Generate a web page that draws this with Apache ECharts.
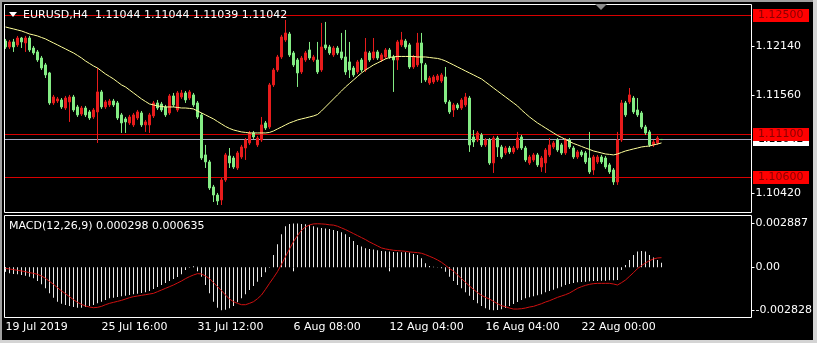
<!DOCTYPE html>
<html><head><meta charset="utf-8">
<script src="https://cdn.jsdelivr.net/npm/echarts@6/dist/echarts.min.js"></script>
<style>html,body{margin:0;padding:0;background:#000;overflow:hidden}#c{width:817px;height:343px}</style>
</head><body><div id="c"></div>
<script>
const symbol = 'EURUSD', period = 'H4';
const open = [1.12196,1.12126,1.12185,1.12150,1.12231,1.12173,1.12231,1.12114,1.12068,1.11997,
1.11916,1.11822,1.11471,1.11494,1.11506,1.11412,1.11483,1.11541,1.11424,1.11342,
1.11412,1.11366,1.11307,1.11366,1.11600,1.11424,1.11448,1.11494,1.11471,1.11331,
1.11284,1.11237,1.11214,1.11295,1.11354,1.11214,1.11214,1.11319,1.11471,1.11459,
1.11424,1.11354,1.11553,1.11389,1.11541,1.11588,1.11529,1.11565,1.11471,1.11331,
1.10863,1.10781,1.10488,1.10394,1.10336,1.10570,1.10851,1.10827,1.10710,1.10839,
1.10944,1.11003,1.11120,1.10980,1.11038,1.11237,1.11190,1.11682,1.11857,1.12009,
1.12208,1.12278,1.12056,1.11974,1.11834,1.11974,1.12091,1.11974,1.11974,1.11857,
1.12150,1.12126,1.12033,1.12114,1.12068,1.12009,1.11951,1.11880,1.11834,1.11974,
1.11857,1.12056,1.11997,1.12068,1.11974,1.12009,1.12091,1.12009,1.11974,1.12150,
1.12196,1.12150,1.11892,1.11916,1.12173,1.11916,1.11705,1.11717,1.11740,1.11728,
1.11775,1.11483,1.11389,1.11448,1.11412,1.11448,1.11529,1.11073,1.11038,1.11097,
1.10980,1.11038,1.10769,1.11061,1.10956,1.10886,1.10944,1.10898,1.10944,1.11073,
1.10944,1.10769,1.10804,1.10863,1.10722,1.10769,1.10863,1.10956,1.11038,1.10980,
1.10886,1.11038,1.10944,1.10839,1.10898,1.10886,1.10827,1.10687,1.10781,1.10839,
1.10827,1.10746,1.10687,1.10547,1.11038,1.11471,1.11483,1.11529,1.11389,1.11354,
1.11190,1.11132,1.10980,1.11003,1.11044];
const close = [1.12126,1.12185,1.12126,1.12231,1.12185,1.12231,1.12091,1.12056,1.11974,1.11880,
1.11799,1.11471,1.11541,1.11518,1.11424,1.11529,1.11541,1.11389,1.11331,1.11412,
1.11331,1.11295,1.11389,1.11600,1.11424,1.11483,1.11494,1.11448,1.11295,1.11237,
1.11249,1.11307,1.11331,1.11366,1.11214,1.11249,1.11331,1.11471,1.11412,1.11389,
1.11331,1.11553,1.11448,1.11588,1.11588,1.11506,1.11600,1.11448,1.11307,1.10827,
1.10781,1.10476,1.10394,1.10324,1.10570,1.10863,1.10769,1.10722,1.10886,1.10956,
1.11038,1.11120,1.11073,1.11061,1.11214,1.11178,1.11682,1.11857,1.12009,1.12243,
1.12290,1.12033,1.11916,1.11822,1.11997,1.12056,1.11997,1.12009,1.11834,1.12126,
1.12114,1.12056,1.12114,1.12056,1.11997,1.11834,1.11857,1.11799,1.11951,1.11857,
1.12068,1.11974,1.12068,1.11997,1.12033,1.12091,1.12009,1.11974,1.12185,1.12208,
1.12126,1.11892,1.12009,1.12173,1.11939,1.11740,1.11763,1.11775,1.11787,1.11799,
1.11483,1.11366,1.11448,1.11412,1.11506,1.11541,1.10980,1.11015,1.11120,1.10980,
1.11038,1.10769,1.11061,1.10956,1.10839,1.10944,1.10898,1.10944,1.11061,1.10944,
1.10804,1.10839,1.10863,1.10746,1.10827,1.10921,1.10980,1.11003,1.10921,1.10886,
1.11038,1.10956,1.10839,1.10898,1.10863,1.10781,1.10664,1.10839,1.10839,1.10781,
1.10722,1.10664,1.10547,1.11038,1.11471,1.11331,1.11565,1.11366,1.11331,1.11190,
1.11120,1.10980,1.11015,1.11061,1.11042];
const low = [1.12103,1.12103,1.12068,1.12126,1.12114,1.12068,1.12068,1.12033,1.11951,1.11857,
1.11763,1.11448,1.11448,1.11471,1.11401,1.11389,1.11249,1.11366,1.11307,1.11319,
1.11307,1.11272,1.11284,1.11003,1.11401,1.11401,1.11424,1.11424,1.11272,1.11120,
1.11120,1.11214,1.11190,1.11272,1.11190,1.11132,1.11120,1.11295,1.11389,1.11366,
1.11307,1.11331,1.11424,1.11366,1.11518,1.11471,1.11506,1.11424,1.11284,1.10804,
1.10710,1.10453,1.10312,1.10277,1.10277,1.10547,1.10710,1.10699,1.10687,1.10816,
1.10804,1.10980,1.11050,1.10956,1.11015,1.11155,1.11167,1.11658,1.11834,1.11986,
1.12185,1.12009,1.11892,1.11658,1.11810,1.11951,1.11974,1.11951,1.11810,1.11834,
1.12091,1.12033,1.12009,1.12033,1.11974,1.11799,1.11763,1.11775,1.11810,1.11834,
1.11834,1.11951,1.11974,1.11974,1.11951,1.11986,1.11986,1.11600,1.11857,1.12126,
1.12103,1.11869,1.11869,1.11892,1.11705,1.11717,1.11682,1.11693,1.11717,1.11705,
1.11459,1.11342,1.11307,1.11389,1.11389,1.11424,1.10898,1.10956,1.11015,1.10956,
1.10956,1.10746,1.10652,1.10839,1.10816,1.10863,1.10874,1.10874,1.10921,1.10921,
1.10781,1.10746,1.10781,1.10722,1.10664,1.10652,1.10839,1.10933,1.10898,1.10863,
1.10863,1.10933,1.10816,1.10816,1.10839,1.10757,1.10640,1.10629,1.10757,1.10757,
1.10699,1.10640,1.10512,1.10512,1.11015,1.11307,1.11459,1.11342,1.11307,1.11167,
1.11097,1.10956,1.10956,1.10980,1.11039];
const high = [1.12220,1.12208,1.12220,1.12255,1.12243,1.12255,1.12255,1.12138,1.12091,1.12021,
1.11939,1.11834,1.11565,1.11541,1.11529,1.11553,1.11565,1.11565,1.11448,1.11436,
1.11436,1.11389,1.11412,1.11880,1.11623,1.11506,1.11518,1.11518,1.11494,1.11354,
1.11307,1.11331,1.11354,1.11389,1.11377,1.11272,1.11354,1.11494,1.11506,1.11483,
1.11448,1.11576,1.11588,1.11611,1.11623,1.11611,1.11623,1.11588,1.11494,1.11354,
1.10980,1.10804,1.10512,1.10418,1.10593,1.10886,1.10944,1.10851,1.10909,1.10980,
1.11061,1.11143,1.11143,1.11085,1.11307,1.11260,1.11705,1.11880,1.12033,1.12267,
1.12442,1.12302,1.12079,1.11997,1.12021,1.12079,1.12185,1.12033,1.12185,1.12407,
1.12419,1.12150,1.12138,1.12138,1.12290,1.12325,1.12185,1.11904,1.11974,1.11997,
1.12231,1.12079,1.12231,1.12091,1.12056,1.12114,1.12114,1.12033,1.12208,1.12302,
1.12220,1.12173,1.12033,1.12290,1.12290,1.11939,1.11787,1.11799,1.11810,1.11822,
1.11892,1.11506,1.11471,1.11471,1.11529,1.11588,1.11553,1.11155,1.11143,1.11120,
1.11061,1.11061,1.11085,1.11085,1.10980,1.10968,1.10968,1.10968,1.11132,1.11097,
1.10968,1.10863,1.10886,1.10886,1.10851,1.10944,1.11061,1.11026,1.11061,1.11003,
1.11061,1.11061,1.10968,1.10921,1.10921,1.10909,1.11132,1.10863,1.10863,1.10863,
1.10851,1.10769,1.10710,1.11132,1.11506,1.11494,1.11646,1.11553,1.11529,1.11377,
1.11214,1.11155,1.11038,1.11085,1.11044];
const maValues = [1.12360,1.12348,1.12337,1.12325,1.12313,1.12296,1.12278,1.12267,1.12255,1.12237,
1.12220,1.12196,1.12173,1.12150,1.12126,1.12103,1.12079,1.12056,1.12027,1.11997,
1.11962,1.11933,1.11904,1.11880,1.11845,1.11810,1.11781,1.11752,1.11717,1.11682,
1.11658,1.11623,1.11588,1.11553,1.11518,1.11488,1.11459,1.11448,1.11436,1.11430,
1.11424,1.11424,1.11424,1.11418,1.11412,1.11412,1.11407,1.11401,1.11377,1.11354,
1.11331,1.11307,1.11284,1.11254,1.11225,1.11196,1.11173,1.11155,1.11143,1.11132,
1.11126,1.11120,1.11120,1.11120,1.11120,1.11120,1.11126,1.11143,1.11167,1.11190,
1.11214,1.11237,1.11254,1.11272,1.11284,1.11295,1.11307,1.11319,1.11336,1.11377,
1.11424,1.11471,1.11518,1.11565,1.11611,1.11658,1.11699,1.11740,1.11781,1.11822,
1.11857,1.11886,1.11916,1.11939,1.11962,1.11986,1.12003,1.12009,1.12015,1.12015,
1.12015,1.12015,1.12015,1.12009,1.12009,1.12009,1.12003,1.11997,1.11992,1.11980,
1.11962,1.11939,1.11916,1.11892,1.11869,1.11845,1.11822,1.11799,1.11775,1.11752,
1.11717,1.11682,1.11646,1.11611,1.11576,1.11541,1.11506,1.11471,1.11436,1.11389,
1.11348,1.11307,1.11272,1.11237,1.11208,1.11178,1.11149,1.11120,1.11091,1.11068,
1.11044,1.11020,1.10997,1.10980,1.10962,1.10944,1.10927,1.10909,1.10898,1.10886,
1.10874,1.10869,1.10863,1.10874,1.10892,1.10909,1.10921,1.10933,1.10944,1.10956,
1.10962,1.10968,1.10980,1.10991,1.11003];
const macdMain = [-0.000286,-0.000396,-0.000440,-0.000462,-0.000506,-0.000550,-0.000616,-0.000726,-0.000902,-0.001122,
-0.001386,-0.001716,-0.002002,-0.002266,-0.002398,-0.002486,-0.002552,-0.002618,-0.002662,-0.002662,
-0.002618,-0.002552,-0.002486,-0.002376,-0.002266,-0.002156,-0.002046,-0.002002,-0.001958,-0.001914,
-0.001870,-0.001826,-0.001782,-0.001738,-0.001694,-0.001650,-0.001562,-0.001430,-0.001298,-0.001166,
-0.001034,-0.000902,-0.000770,-0.000638,-0.000462,-0.000176,-0.000022,0.000066,0.000044,-0.000616,
-0.001166,-0.001716,-0.002266,-0.002662,-0.002828,-0.002790,-0.002706,-0.002552,-0.002310,-0.002046,
-0.001782,-0.001496,-0.001232,-0.000946,-0.000638,-0.000330,-0.000022,0.000814,0.001518,0.002178,
0.002700,0.002860,0.002887,0.002880,0.002850,0.002830,0.002780,0.002700,0.002620,0.002590,
0.002560,0.002530,0.002464,0.002398,0.002310,0.002178,0.002002,0.001738,0.001474,0.001364,
0.001254,0.001210,0.001166,0.001122,0.001078,0.001056,0.001034,0.001012,0.000990,0.000990,
0.000990,0.000968,0.000880,0.000814,0.000594,0.000264,0.000088,0.000044,0.000022,-0.000066,
-0.000286,-0.000616,-0.000902,-0.001166,-0.001386,-0.001650,-0.001870,-0.002156,-0.002376,-0.002552,
-0.002706,-0.002790,-0.002828,-0.002810,-0.002760,-0.002680,-0.002552,-0.002420,-0.002288,-0.002156,
-0.002046,-0.001980,-0.001914,-0.001848,-0.001782,-0.001650,-0.001562,-0.001474,-0.001386,-0.001276,
-0.001166,-0.001100,-0.001034,-0.000990,-0.000968,-0.000946,-0.000924,-0.000902,-0.000902,-0.000880,
-0.000880,-0.000858,-0.000858,-0.000836,-0.000176,0.000154,0.000484,0.000814,0.001034,0.001078,
0.001034,0.000814,0.000638,0.000484,0.000298];
const macdSignal = [-0.000066,-0.000110,-0.000154,-0.000198,-0.000242,-0.000286,-0.000352,-0.000396,-0.000462,-0.000572,
-0.000726,-0.000924,-0.001122,-0.001342,-0.001562,-0.001738,-0.001936,-0.002134,-0.002310,-0.002442,
-0.002552,-0.002618,-0.002662,-0.002640,-0.002574,-0.002464,-0.002376,-0.002310,-0.002244,-0.002178,
-0.002090,-0.002002,-0.001936,-0.001892,-0.001848,-0.001804,-0.001760,-0.001716,-0.001606,-0.001496,
-0.001386,-0.001276,-0.001166,-0.001034,-0.000902,-0.000748,-0.000616,-0.000506,-0.000418,-0.000440,
-0.000572,-0.000748,-0.001012,-0.001276,-0.001540,-0.001826,-0.002090,-0.002266,-0.002376,-0.002464,
-0.002464,-0.002376,-0.002266,-0.002068,-0.001826,-0.001452,-0.001056,-0.000682,-0.000286,0.000198,
0.000704,0.001210,0.001694,0.002090,0.002442,0.002662,0.002794,0.002860,0.002870,0.002860,
0.002840,0.002800,0.002780,0.002706,0.002596,0.002486,0.002354,0.002222,0.002090,0.001958,
0.001826,0.001672,0.001540,0.001408,0.001276,0.001210,0.001166,0.001122,0.001100,0.001078,
0.001056,0.001012,0.000990,0.000968,0.000924,0.000836,0.000726,0.000616,0.000484,0.000330,
0.000132,-0.000088,-0.000242,-0.000506,-0.000748,-0.000990,-0.001232,-0.001452,-0.001672,-0.001848,
-0.001980,-0.002090,-0.002244,-0.002398,-0.002530,-0.002596,-0.002684,-0.002750,-0.002750,-0.002728,
-0.002684,-0.002618,-0.002574,-0.002486,-0.002398,-0.002288,-0.002200,-0.002090,-0.001980,-0.001892,
-0.001804,-0.001694,-0.001540,-0.001386,-0.001276,-0.001188,-0.001122,-0.001078,-0.001056,-0.001056,
-0.001056,-0.001056,-0.001100,-0.001166,-0.001012,-0.000836,-0.000594,-0.000352,-0.000088,0.000110,
0.000286,0.000440,0.000550,0.000616,0.000635];
const tickIdx = [0, 24, 48, 72, 96, 120, 144];
const tickText = ['19 Jul 2019','25 Jul 16:00','31 Jul 12:00','6 Aug 08:00','12 Aug 04:00','16 Aug 04:00','22 Aug 00:00'];
const priceTicks = [1.12140, 1.11560, 1.10420];
const levelLines = [1.12500, 1.11100, 1.10600];
const macdTicks = [0.002887, 0, -0.002828];

// layout constants
const N_SLOTS = 187;
const PRICE_MIN = 1.101951, PRICE_MAX = 1.126287;
const MACD_MIN = -0.003275, MACD_MAX = 0.003447;
const FONT = '"DejaVu Sans"';
const UP = '#e81c1c', DOWN = '#84ec84';

const slots = Array.from({length: N_SLOTS}, (_, i) => String(i));
const candleData = open.map((o, i) => [o, close[i], low[i], high[i]]);
const last = open.length - 1;
const titleText = symbol + ',' + period + '  ' + [open[last], high[last], low[last], close[last]].map(v => v.toFixed(5)).join(' ');
const macdText = 'MACD(12,26,9) ' + macdMain[last].toFixed(6) + ' ' + macdSignal[last].toFixed(6);
const tickSet = new Set(tickIdx);
const bidPrice = close[last];

const chart = echarts.init(document.getElementById('c'), null, {renderer: 'canvas'});
chart.setOption({
  backgroundColor: '#000',
  animation: false,
  grid: [
    {left: 3.5, top: 4, width: 748, height: 208, outerBoundsMode: 'none', containLabel: false},
    {left: 3.5, top: 215, width: 748, height: 102, outerBoundsMode: 'none', containLabel: false}
  ],
  xAxis: [
    {type: 'category', gridIndex: 0, data: slots, boundaryGap: true,
     axisLine: {show: false}, axisTick: {show: false}, axisLabel: {show: false}, splitLine: {show: false}},
    {type: 'category', gridIndex: 1, data: slots, boundaryGap: true,
     axisLine: {show: false}, splitLine: {show: false},
     axisTick: {show: true, alignWithLabel: true, interval: i => tickSet.has(i), length: 4, lineStyle: {color: '#fff'}},
     axisLabel: {show: true, interval: i => tickSet.has(i), formatter: (v, i) => tickText[tickIdx.indexOf(i)] || '',
       color: '#fff', fontFamily: FONT, fontSize: 11, align: 'left', margin: 5}}
  ],
  yAxis: [
    {type: 'value', gridIndex: 0, position: 'right', min: PRICE_MIN, max: PRICE_MAX, splitLine: {show: false},
     axisLine: {show: false},
     axisTick: {show: true, length: 3, customValues: priceTicks, lineStyle: {color: '#fff'}},
     axisLabel: {show: true, customValues: priceTicks, formatter: v => v.toFixed(5), color: '#fff', fontFamily: FONT, fontSize: 11, margin: 4}},
    {type: 'value', gridIndex: 1, position: 'right', min: MACD_MIN, max: MACD_MAX, splitLine: {show: false},
     axisLine: {show: false},
     axisTick: {show: true, length: 3, customValues: macdTicks, lineStyle: {color: '#fff'}},
     axisLabel: {show: true, customValues: macdTicks, formatter: v => (Math.abs(v) < 1e-9 ? '0.00' : v.toFixed(6)), color: '#fff', fontFamily: FONT, fontSize: 11, margin: 4}}
  ],
  series: [
    {type: 'candlestick', xAxisIndex: 0, yAxisIndex: 0, data: candleData, barWidth: 2, z: 3,
     itemStyle: {color: UP, color0: DOWN, borderColor: UP, borderColor0: DOWN, borderWidth: 1}},
    {type: 'line', xAxisIndex: 0, yAxisIndex: 0, data: maValues, showSymbol: false, symbol: 'none', z: 5,
     lineStyle: {color: '#ffff99', width: 1}},
    {type: 'bar', xAxisIndex: 1, yAxisIndex: 1, data: macdMain, barWidth: 1, itemStyle: {color: '#e8e8e8'}},
    {type: 'line', xAxisIndex: 1, yAxisIndex: 1, data: macdSignal, showSymbol: false, symbol: 'none', z: 5,
     lineStyle: {color: '#d01010', width: 1}}
  ]
});

// horizontal price levels, placed through the price axis scale
const gx0 = 5, gx1 = 751;
const graphics = [];
let zc = 80;
function addLevel(value, lineColor, boxColor, textColor) {
  const py = chart.convertToPixel({yAxisIndex: 0}, value);
  const row = Math.floor(py) + 0.5;
  graphics.push({type: 'line', silent: true, z: 1, shape: {x1: gx0, y1: row, x2: gx1, y2: row}, style: {stroke: lineColor, lineWidth: 1}});
  graphics.push({type: 'rect', silent: true, z: zc++, shape: {x: 753, y: Math.floor(py) - 6, width: 56, height: 13}, style: {fill: boxColor}});
  graphics.push({type: 'text', silent: true, z: zc++, x: 758, y: Math.floor(py) + 0.5,
    style: {text: value.toFixed(5), fill: textColor, font: '11px ' + FONT, verticalAlign: 'middle'}});
}
addLevel(bidPrice, '#a8a8c0', '#ffffff', '#000000');
levelLines.forEach(v => addLevel(v, '#d80000', '#ff0000', '#8a0000'));

graphics.push(
  {type: 'rect', silent: true, z: 100, shape: {x: 0, y: 0, width: 817, height: 2}, style: {fill: '#a0a0a0'}},
  {type: 'rect', silent: true, z: 100, shape: {x: 0, y: 0, width: 2, height: 343}, style: {fill: '#a0a0a0'}},
  {type: 'rect', silent: true, z: 100, shape: {x: 813, y: 0, width: 4, height: 343}, style: {fill: '#d4d4d4'}},
  {type: 'rect', silent: true, z: 100, shape: {x: 0, y: 340, width: 817, height: 3}, style: {fill: '#d4d4d4'}},
  {type: 'rect', silent: true, z: 100, shape: {x: 4.5, y: 4.5, width: 747, height: 208}, style: {fill: 'none', stroke: '#fff', lineWidth: 1}},
  {type: 'rect', silent: true, z: 100, shape: {x: 4.5, y: 215.5, width: 747, height: 102}, style: {fill: 'none', stroke: '#fff', lineWidth: 1}},
  {type: 'polygon', silent: true, z: 100, shape: {points: [[9, 12], [17, 12], [13, 17]]}, style: {fill: '#fff'}},
  {type: 'polygon', silent: true, z: 100, shape: {points: [[595, 4], [607, 4], [601, 10]]}, style: {fill: '#8c8c8c'}},
  {type: 'text', silent: true, z: 100, x: 23, y: 15, style: {text: titleText, fill: '#fff', font: '11px ' + FONT, verticalAlign: 'middle'}},
  {type: 'text', silent: true, z: 100, x: 9, y: 226, style: {text: macdText, fill: '#fff', font: '11px ' + FONT, verticalAlign: 'middle'}}
);
chart.setOption({graphic: graphics});
</script>
</body></html>
